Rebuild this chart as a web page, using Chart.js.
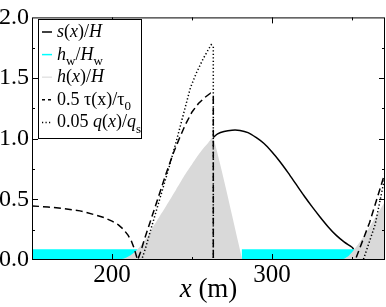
<!DOCTYPE html>
<html><head><meta charset="utf-8">
<script src="https://cdn.jsdelivr.net/npm/chart.js@4"></script>
<style>html,body{margin:0;padding:0;background:#fff}#w{width:386px;height:307px}</style>
</head><body><div id="w"><canvas id="c"></canvas></div>
<script>
// ---- data ----
const xTicks = [200, 300];
const yTicks = [0, 0.5, 1.0, 1.5, 2.0];

const sX = [263.3, 266, 270, 275, 280, 285, 290, 295, 300, 305, 310, 315, 320, 325, 330, 335, 340, 345, 350, 351];
const sY = [1.01, 1.04, 1.06, 1.07, 1.068, 1.05, 1.01, 0.96, 0.89, 0.81, 0.72, 0.625, 0.53, 0.44, 0.355, 0.275, 0.205, 0.15, 0.105, 0.09];

const hw1X = [150, 216];
const hw1Y = [0.088, 0.088];
const hw2X = [281, 352];
const hw2Y = [0.088, 0.088];

const h1X = [203, 207, 211, 215, 218, 222, 226, 230, 234, 240, 245, 249, 253, 257, 260, 263.3, 281.5];
const h1Y = [0, 0.01, 0.035, 0.075, 0.12, 0.19, 0.28, 0.365, 0.45, 0.58, 0.69, 0.77, 0.85, 0.92, 0.965, 1.01, 0];
const h2X = [342.5, 345, 348, 351, 355, 360, 365, 370.6];
const h2Y = [0, 0.01, 0.035, 0.08, 0.15, 0.25, 0.36, 0.48];

const tauX = [150, 160, 170, 180, 190, 195, 200, 204, 207, 210, 212, 214, 215.5, 216, 218, 220, 224, 229, 234, 238, 242, 246, 250, 254, 258, 261.5, 263.3, 263.3, 352, 361, 370.6];
const tauY = [0.446, 0.437, 0.424, 0.405, 0.37, 0.35, 0.32, 0.29, 0.255, 0.205, 0.16, 0.09, 0.02, 0, 0.07, 0.16, 0.32, 0.52, 0.72, 0.87, 1.0, 1.12, 1.22, 1.29, 1.34, 1.375, 1.34, 0, 0, 0.31, 0.72];

const qX = [150, 218.5, 221, 224, 228, 232, 236, 240, 244, 249, 253, 257, 260, 262, 263.3, 263.3, 357, 364.4, 370.6];
const qY = [0, 0, 0.1, 0.24, 0.42, 0.6, 0.78, 0.97, 1.17, 1.42, 1.55, 1.66, 1.73, 1.775, 1.76, 0, 0, 0.29, 0.69];

const legendRows = [
  {kind:'solid', parts:[['i','s'],['r','('],['i','x'],['r',')/'],['i','H']]},
  {kind:'cyan', parts:[['i','h'],['sub','w'],['r','/'],['i','H'],['sub','w']]},
  {kind:'grey', parts:[['i','h'],['r','('],['i','x'],['r',')/'],['i','H']]},
  {kind:'dash', parts:[['r','0.5 τ(x)/τ'],['sub','0']]},
  {kind:'dot', parts:[['r','0.05 '],['i','q'],['r','('],['i','x'],['r',')/'],['i','q'],['sub','s']]}
];
const xTitleParts = [['i','x'],['r',' (m)']];

const pts = (xs, ys) => xs.map((x, i) => ({x: x, y: ys[i]}));
const SERIF = '"Liberation Serif", "DejaVu Serif", serif';
const CYAN = '#00ffff', GREY = '#d9d9d9';

function drawRich(ctx, parts, x, y, size) {
  for (const [k, t] of parts) {
    let f, dy = 0;
    if (k === 'i') f = 'italic ' + size + 'px ' + SERIF;
    else if (k === 'sub') { f = Math.round(size * 0.7) + 'px ' + SERIF; dy = size * 0.3; }
    else f = size + 'px ' + SERIF;
    ctx.font = f;
    ctx.fillText(t, x, y + dy);
    x += ctx.measureText(t).width;
  }
  return x;
}
function richWidth(ctx, parts, size) {
  let w = 0;
  for (const [k, t] of parts) {
    if (k === 'i') ctx.font = 'italic ' + size + 'px ' + SERIF;
    else if (k === 'sub') ctx.font = Math.round(size * 0.7) + 'px ' + SERIF;
    else ctx.font = size + 'px ' + SERIF;
    w += ctx.measureText(t).width;
  }
  return w;
}

const framePlugin = {
  id: 'frame',
  afterDraw(chart) {
    const {ctx, chartArea: a, scales} = chart;
    ctx.save();
    ctx.strokeStyle = '#000';
    ctx.lineWidth = 1;
    ctx.strokeRect(a.left + 0.5, a.top + 0.5, a.right - a.left - 1, a.bottom - a.top - 1);
    ctx.beginPath();
    for (let v = 200; v <= 350; v += 50) {
      const px = Math.round(scales.x.getPixelForValue(v)) + 0.5;
      const L = (v % 100 === 0) ? 6 : 3;
      ctx.moveTo(px, a.bottom); ctx.lineTo(px, a.bottom - L);
      ctx.moveTo(px, a.top); ctx.lineTo(px, a.top + L);
    }
    for (let v = 0.25; v < 2; v += 0.25) {
      const py = Math.round(scales.y.getPixelForValue(v)) + 0.5;
      const L = (Math.abs(v * 2 - Math.round(v * 2)) < 1e-6) ? 6 : 3;
      ctx.moveTo(a.left, py); ctx.lineTo(a.left + L, py);
      ctx.moveTo(a.right, py); ctx.lineTo(a.right - L, py);
    }
    ctx.stroke();
    ctx.fillStyle = '#000';
    ctx.textBaseline = 'alphabetic';
    const ts = 27;
    const tw = richWidth(ctx, xTitleParts, ts);
    drawRich(ctx, xTitleParts, (a.left + a.right) / 2 - tw / 2, 297, ts);
    const bx = 38, by = 19, bw = 103, bh = 119;
    ctx.fillStyle = '#fff';
    ctx.fillRect(bx, by, bw, bh);
    ctx.strokeStyle = '#000';
    ctx.strokeRect(bx + 0.5, by + 0.5, bw, bh);
    const fs = 18;
    legendRows.forEach((r, i) => {
      const y = 32 + i * 22.6;
      ctx.save();
      ctx.lineWidth = 1.5;
      ctx.strokeStyle = '#000';
      if (r.kind === 'cyan') ctx.strokeStyle = CYAN;
      if (r.kind === 'grey') ctx.strokeStyle = '#e4e4e4';
      if (r.kind === 'dash') ctx.setLineDash([3, 3]);
      if (r.kind === 'dot') ctx.setLineDash([1.2, 2.3]);
      ctx.beginPath(); ctx.moveTo(42, y); ctx.lineTo(52, y); ctx.stroke();
      ctx.restore();
      ctx.fillStyle = '#000';
      drawRich(ctx, r.parts, 57, y + 5, fs);
    });
    ctx.restore();
  }
};

new Chart(document.getElementById('c'), {
  type: 'scatter',
  data: {
    datasets: [
      {data: pts(sX, sY), showLine: true, borderColor: '#000', borderWidth: 1.5, pointRadius: 0, tension: 0.3, order: 1},
      {data: pts(tauX, tauY), showLine: true, borderColor: '#000', borderWidth: 1.5, borderDash: [7, 4], pointRadius: 0, order: 2},
      {data: pts(qX, qY), showLine: true, borderColor: '#000', borderWidth: 1.5, borderDash: [1.3, 2.2], pointRadius: 0, order: 3},
      {data: pts(h1X, h1Y), showLine: true, borderWidth: 0, borderColor: GREY, backgroundColor: GREY, fill: 'origin', pointRadius: 0, tension: 0.2, order: 4},
      {data: pts(h2X, h2Y), showLine: true, borderWidth: 0, borderColor: GREY, backgroundColor: GREY, fill: 'origin', pointRadius: 0, tension: 0.2, order: 4},
      {data: pts(hw1X, hw1Y), showLine: true, borderWidth: 0, borderColor: CYAN, backgroundColor: CYAN, fill: 'origin', pointRadius: 0, order: 5},
      {data: pts(hw2X, hw2Y), showLine: true, borderWidth: 0, borderColor: CYAN, backgroundColor: CYAN, fill: 'origin', pointRadius: 0, order: 5}
    ]
  },
  options: {
    responsive: true, maintainAspectRatio: false, animation: false,
    layout: {padding: {top: 9, right: 1, left: 0, bottom: 0}},
    plugins: {legend: {display: false}, tooltip: {enabled: false}},
    scales: {
      x: {type: 'linear', min: 150, max: 370.6,
          afterBuildTicks: s => { s.ticks = xTicks.map(v => ({value: v})); },
          ticks: {font: {family: SERIF, size: 25}, color: '#000', padding: 0, maxRotation: 0, autoSkip: false},
          grid: {display: false, drawTicks: false}, border: {display: false},
          afterFit: s => { s.height = 47; }},
      y: {min: 0, max: 2,
          afterBuildTicks: s => { s.ticks = yTicks.map(v => ({value: v})); },
          ticks: {font: {family: SERIF, size: 24}, color: '#000', padding: 3, callback: v => v.toFixed(1)},
          grid: {display: false, drawTicks: false}, border: {display: false},
          afterFit: s => { s.width = 32; }}
    }
  },
  plugins: [framePlugin]
});
</script></body></html>
